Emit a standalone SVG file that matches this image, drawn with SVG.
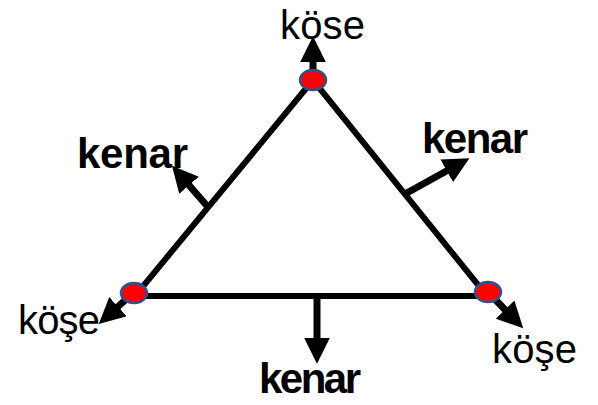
<svg xmlns="http://www.w3.org/2000/svg" width="598" height="405" viewBox="0 0 598 405">
<style>
.edge{stroke:#000;stroke-width:6;fill:none;stroke-linejoin:miter}
.arr{stroke:#000;stroke-width:7;fill:none;marker-end:url(#ah)}
.v{fill:#ff0000;stroke:#2f528f;stroke-width:2.5}
.k{font-family:"Liberation Sans",Arial,sans-serif;font-size:40px;fill:#000}
.kn{font-family:"Liberation Sans",Arial,sans-serif;font-size:42px;font-weight:bold;fill:#000}
</style>
<defs>
<marker id="ah" markerUnits="userSpaceOnUse" markerWidth="26" markerHeight="26" viewBox="0 0 24 24" refX="4" refY="12" orient="auto">
<path d="M0,0 L24,12 L0,24 z" fill="#000"/>
</marker>
</defs>
<g id="connectors">
<polygon class="edge" points="313,80 135,296 487,296"/>
<line class="arr" x1="313" y1="72" x2="313" y2="58"/>
<line class="arr" x1="317" y1="296" x2="317" y2="342"/>
<line class="arr" x1="133" y1="293" x2="114.8" y2="309.5"/>
<line class="arr" x1="488" y1="292" x2="508.1" y2="312.7"/>
<line class="arr" x1="208" y1="207" x2="186.2" y2="182"/>
<line class="arr" x1="405" y1="194" x2="450.5" y2="168.7"/>
</g>
<g id="vertex-top"><ellipse class="v" cx="313" cy="80" rx="13" ry="10"/></g>
<g id="vertex-left"><ellipse class="v" cx="134" cy="293" rx="13" ry="10"/></g>
<g id="vertex-right"><ellipse class="v" cx="488" cy="292" rx="13" ry="10"/></g>
<g id="label-top"><text class="k" x="280" y="39" textLength="85">köse</text></g>
<g id="label-left-corner"><text class="k" x="18" y="334" textLength="82">köşe</text></g>
<g id="label-right-corner"><text class="k" x="492" y="363" textLength="85">köşe</text></g>
<g id="label-left-edge"><text class="kn" x="77" y="168" textLength="111">kenar</text></g>
<g id="label-right-edge"><text class="kn" x="422" y="153" textLength="106">kenar</text></g>
<g id="label-bottom-edge"><text class="kn" x="259" y="393" textLength="102">kenar</text></g>
</svg>
